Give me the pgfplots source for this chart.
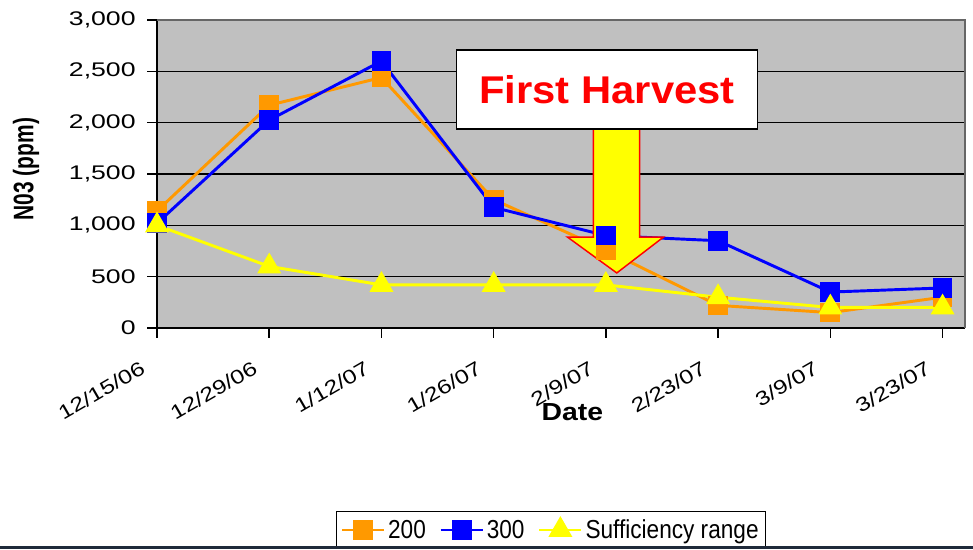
\documentclass[border=0pt]{standalone}
\usepackage{pgfplots}
\pgfplotsset{compat=1.18}
\usepackage{fontspec}
\setmainfont{Liberation Sans}
\newfontfamily\legfont{Liberation Sans}[FakeStretch=0.87]
\newfontfamily\tickfont{Liberation Sans}[FakeStretch=1.35]
\newfontfamily\xtickfont{Liberation Sans}[FakeStretch=1.25]
\definecolor{bggray}{HTML}{C0C0C0}
\definecolor{xlorange}{HTML}{FF9900}
\definecolor{xlblue}{HTML}{0000FF}
\definecolor{xlyellow}{HTML}{FFFF00}
\definecolor{bottombar}{HTML}{1F2A3A}

\begin{document}
\begin{tikzpicture}
\useasboundingbox (0pt,0pt) rectangle (729.75pt,411.75pt);
\begin{axis}[
  at={(117.75pt,165.75pt)}, anchor=south west,
  scale only axis, width=606pt, height=231pt,
  xmin=0, xmax=7.2, ymin=0, ymax=3000,
  clip=false,
  xtick={0,...,7},
  xticklabels={12/15/06,12/29/06,1/12/07,1/26/07,2/9/07,2/23/07,3/9/07,3/23/07},
  ytick={0,500,...,3000},
  ymajorgrids, grid style={black, line width=1.1pt},
  axis x line*=bottom, axis y line*=left,
  axis line style={black, line width=1.1pt, -},
  axis background/.style={fill=bggray},
  tick align=outside, major tick length=7.5pt,
  tick style={black, line width=1.1pt},
  /pgf/number format/.cd, 1000 sep={,}, assume math mode=true,
  /pgfplots/.cd,
  yticklabel style={font=\tickfont\fontsize{14.8}{16}\selectfont, anchor=east, xshift=-5pt},
  xticklabel style={font=\xtickfont\fontsize{14.8}{16}\selectfont, anchor=north east,
                    xshift=-12pt, yshift=-12pt, rotate=30},
  every axis y label/.style={at={(axis description cs:-0.162,0.516)}, anchor=center,
                    font=\bfseries\fontsize{15.7}{17}\selectfont, xscale=1.35, rotate=90},
  every axis x label/.style={at={(axis description cs:0.514,-0.273)}, anchor=center,
                    font=\bfseries\fontsize{18.5}{20}\selectfont, xscale=1.15},
  ylabel={N03 (ppm)},
  xlabel={Date},
  legend image code/.code={\draw[mark repeat=2, mark phase=2, #1]
      plot coordinates {(0pt,0pt) (15.75pt,0pt) (31.5pt,0pt)};},
  legend style={at={(0.2215,-0.594)}, anchor=north west, legend columns=3,
                draw=black, line width=0.9pt, fill=white,
                font=\legfont\fontsize{19.5}{21}\selectfont,
                inner xsep=3pt, inner ysep=4pt,
                /tikz/every even column/.append style={column sep=8pt}},
]
\addplot[xlorange, line width=2.2pt, mark=square*, mark size=6.3pt, mark options={solid}]
  coordinates {(0,1140) (1,2170) (2,2440) (3,1250) (4,760) (5,220) (6,150) (7,300)};
\addplot[xlblue, line width=2.2pt, mark=square*, mark size=6.3pt, mark options={solid}]
  coordinates {(0,1020) (1,2025) (2,2600) (3,1175) (4,900) (5,850) (6,350) (7,390)};
\addplot[xlyellow, line width=2.2pt, mark=triangle*, mark size=8.2pt, mark options={solid}]
  coordinates {(0,1000) (1,600) (2,420) (3,420) (4,420) (5,300) (6,200) (7,200)};
\legend{200,300,Sufficiency range}

% top/right plot-area edge
\draw[gray!80!black, line width=0.8pt] (rel axis cs:0,1) -- (rel axis cs:1,1) -- (rel axis cs:1,0);

% annotation arrow and box
\filldraw[fill=xlyellow, draw=red, line width=1.1pt]
  (axis cs:3.889,2000) -- (axis cs:4.300,2000) -- (axis cs:4.300,886) -- (axis cs:4.514,886)
  -- (axis cs:4.097,536) -- (axis cs:3.657,886) -- (axis cs:3.889,886) -- cycle;
\filldraw[fill=white, draw=black, line width=1.1pt]
  (axis cs:2.668,2707) rectangle (axis cs:5.353,1938);
\node[text=red, font=\bfseries\fontsize{29}{30}\selectfont, xscale=1.08]
  at (axis cs:4.01,2322) {First Harvest};
\end{axis}
\fill[bottombar] (0pt,0pt) rectangle (729.75pt,2.4pt);
\end{tikzpicture}
\end{document}
